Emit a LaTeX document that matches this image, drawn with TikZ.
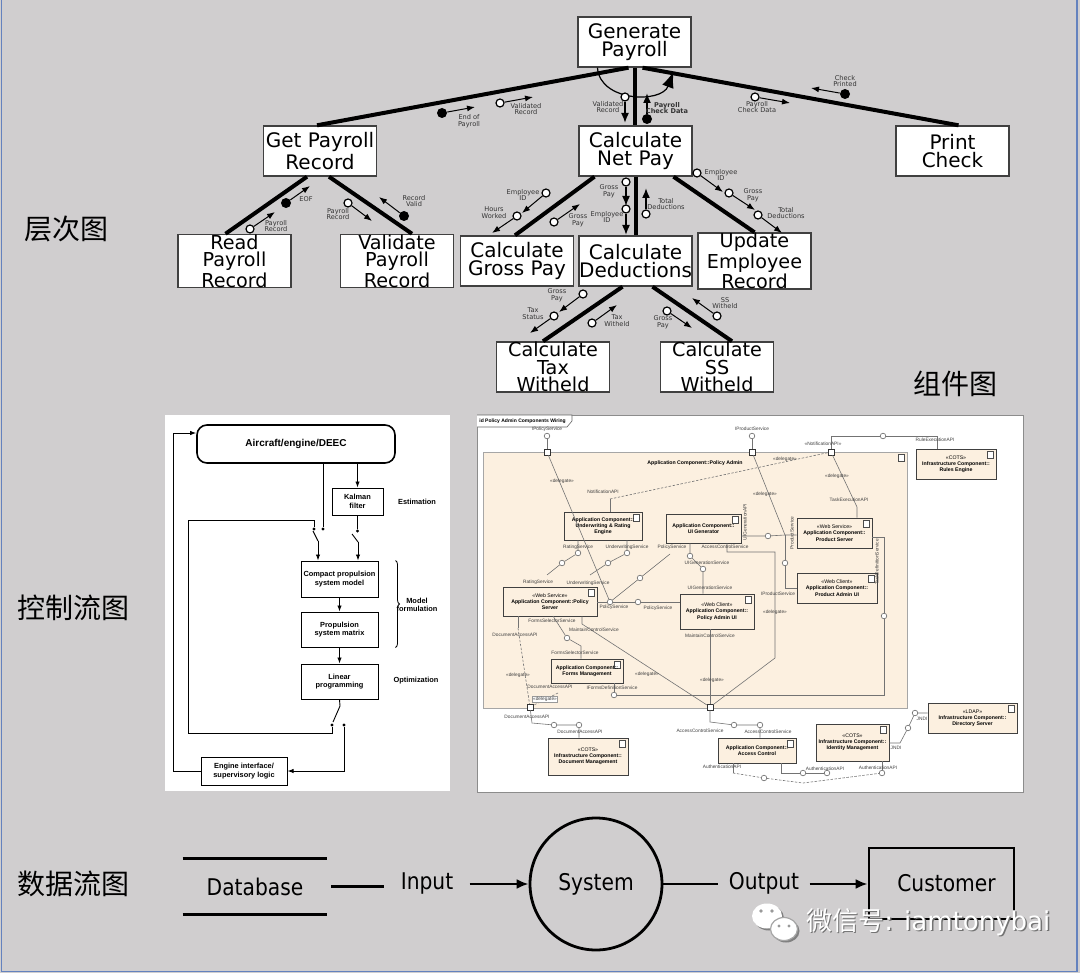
\documentclass[tikz,border=0pt]{standalone}
\usepackage{fontspec}
\setmainfont{DejaVu Sans}
\newfontfamily\cjkfont{Noto Sans CJK SC}
\newfontfamily\arialfont{Liberation Sans}
\newfontfamily\dfdfont[FakeStretch=0.88]{DejaVu Sans}
\usetikzlibrary{arrows.meta,calc,decorations.pathreplacing,shadows}

\definecolor{panelgray}{RGB}{208,206,207}
\definecolor{frameblue}{RGB}{100,130,190}
\definecolor{compbeige}{RGB}{252,240,224}

% data couple: circle, arrow and small label
\newcommand{\dcouple}[7][cplarrow]{%
  \node[#3] (#2) at (#4) {};
  \coordinate (#2-e) at (#5);
  \draw[#1] (#2) -- (#2-e);
  \node[cpllabel] (#2-l) at (#6) {#7};
}

\begin{document}
\begin{tikzpicture}[
    x=0.5pt, y=-0.5pt,
    module/.style={
        draw=black!75,
        fill=white,
        line width=0.7pt,
        minimum width=56.5pt,
        minimum height=25pt,
        inner sep=0pt,
        align=center,
        font=\fontsize{10}{9}\selectfont
    },
    module3/.style={module, font=\fontsize{9.6}{8.8}\selectfont},
    tree/.style={line width=2pt},
    opencpl/.style={circle, draw, fill=white, line width=0.6pt, minimum size=4pt, inner sep=0pt},
    fullcpl/.style={circle, fill=black, minimum size=5pt, inner sep=0pt},
    cplarrow/.style={-{Latex[length=4pt,width=3pt]}, line width=0.5pt},
    bigarrow/.style={-{Latex[length=5pt,width=4pt]}, line width=0.8pt},
    cpllabel/.style={font=\fontsize{3.3}{3.4}\selectfont, align=center, inner sep=0pt, text=black!80},
    sidelabel/.style={font=\cjkfont\fontsize{14}{14}\selectfont, inner sep=0pt},
    cfbox/.style={draw, line width=0.5pt, fill=white, align=center, inner sep=0pt,
        font=\arialfont\bfseries\fontsize{3.7}{4.3}\selectfont},
    cfnote/.style={font=\arialfont\bfseries\fontsize{3.7}{4.3}\selectfont, align=center, inner sep=0pt},
    cfline/.style={line width=0.45pt},
    cfarrow/.style={line width=0.45pt, -{Latex[length=3pt,width=2.2pt]}},
    swdot/.style={circle, fill=black, minimum size=1.6pt, inner sep=0pt},
    compicon/.style={path picture={
        \draw[black!70, line width=0.25pt, fill=white]
            ([shift={(-4.2pt,-1.2pt)}]path picture bounding box.north east) rectangle
            ([shift={(-1.6pt,-4.6pt)}]path picture bounding box.north east);}},
    comp/.style={draw=black!75, fill=compbeige, line width=0.4pt, align=center, inner sep=0.3pt,
        font=\arialfont\bfseries\fontsize{2.6}{3.1}\selectfont,
        drop shadow={shadow xshift=0.6pt, shadow yshift=-0.6pt, fill=black!40}, compicon},
    wire/.style={draw=black!55, line width=0.3pt},
    dwire/.style={wire, dash pattern=on 1.2pt off 0.8pt},
    lolli/.style={circle, draw=black!60, fill=white, line width=0.3pt, minimum size=2.8pt, inner sep=0pt},
    port/.style={rectangle, draw=black!80, fill=white, line width=0.3pt, minimum size=3pt, inner sep=0pt},
    wlabel/.style={font=\arialfont\fontsize{2.4}{2.8}\selectfont, text=black!75, inner sep=0.3pt},
    dfd/.style={font=\dfdfont\fontsize{11.5}{12}\selectfont},
    flow/.style={line width=1.4pt},
    flowarrow/.style={line width=1.4pt, -{Latex[length=6pt,width=5pt]}},
    wmtext/.style={font=\fontsize{13}{13}\selectfont, anchor=west, inner sep=0pt}
]
\useasboundingbox (0,0) rectangle (1080,973);
\fill[panelgray] (0,0) rectangle (1080,973);
\draw[frameblue, line width=0.8pt] (1.5,0) -- (1.5,971.5) -- (1077,971.5) -- (1077,0);

% section titles
\node[sidelabel] (tHier) at (67,229) {层次图};
\node[sidelabel] (tCtrl) at (74,608) {控制流图};
\node[sidelabel] (tComp) at (955,384) {组件图};
\node[sidelabel] (tData) at (74,884) {数据流图};

% ---------- structure chart ----------
\node[module] (gen) at (634.5,42) {Generate\\Payroll};
\node[module] (getrec) at (320,151) {Get Payroll\\Record};
\node[module] (netpay) at (635.5,151) {Calculate\\Net Pay};
\node[module] (print) at (952.5,151) {Print\\Check};
\node[module3] (read) at (234.5,261) {Read\\Payroll\\Record};
\node[module3] (validate) at (397,261) {Validate\\Payroll\\Record};
\node[module] (gross) at (517,261) {Calculate\\Gross Pay};
\node[module] (deduct) at (635.5,261) {Calculate\\Deductions};
\node[module3] (update) at (754.5,261) {Update\\Employee\\Record};
\node[module3] (tax) at (553,367) {Calculate\\Tax\\Witheld};
\node[module3] (ss) at (717,367) {Calculate\\SS\\Witheld};

\draw[tree] ($(gen.south)+(-6,0)$) -- ($(getrec.north)+(-3,0)$);
\draw[tree] (gen.south) -- (gen.south |- netpay.north);
\draw[tree] ($(gen.south)+(8,0)$) -- ($(print.north)+(6,0)$);
\draw[tree] ($(getrec.south)+(-13,0)$) -- ($(read.north)+(-9,0)$);
\draw[tree] ($(getrec.south)+(9,0)$) -- ($(validate.north)+(15,0)$);
\draw[tree] ($(netpay.south)+(-41,0)$) -- ($(gross.north)+(-2,0)$);
\draw[tree] (netpay.south) -- (netpay.south |- deduct.north);
\draw[tree] ($(netpay.south)+(38,0)$) -- (update.north);
\draw[tree] ($(deduct.south)+(-13,0)$) -- ($(tax.north)+(-10,0)$);
\draw[tree] ($(deduct.south)+(17,0)$) -- ($(ss.north)+(15,0)$);

% iteration loop under the top module
\coordinate (loopstart) at ($(gen.south)+(-37,0)$);
\coordinate (loopend) at ($(gen.south)+(39,4)$);
\draw[line width=0.6pt, -{Latex[length=8pt,width=6pt]}]
    (loopstart) .. controls ($(loopstart)+(2,34)$) and ($(loopend)+(-12,32)$) .. (loopend);

\dcouple{c1}{fullcpl}{442,113}{475,107}{469,121}{End of\\Payroll}
\dcouple{c2}{opencpl}{500,103}{533,97}{526,109}{Validated\\Record}
\dcouple[bigarrow]{c3}{opencpl}{625,97}{625,123}{608,107}{Validated\\Record}
\node[fullcpl] (c4) at (647,119) {};
\coordinate (c4-e) at (647,93);
\draw[bigarrow] (c4) -- (c4-e);
\node[cpllabel, font=\bfseries\fontsize{3.3}{3.4}\selectfont] (c4-l) at (667,108) {Payroll\\Check Data};
\dcouple{c5}{opencpl}{755,97}{790,103}{757,107}{Payroll\\Check Data}
\dcouple{c6}{fullcpl}{845,94}{811,88}{845,81}{Check\\Printed}
\dcouple{c7}{opencpl}{250,229}{275,212}{276,226}{Payroll\\Record}
\dcouple{c8}{fullcpl}{286,203}{310,186}{306,199}{EOF}
\dcouple{c9}{opencpl}{348,203}{372,221}{338,214}{Payroll\\Record}
\dcouple{c10}{fullcpl}{404,216}{379,197}{414,201}{Record\\Valid}
\dcouple{c11}{opencpl}{546,193}{522,213}{523,195}{Employee\\ID}
\dcouple{c12}{opencpl}{517,216}{492,233}{494,213}{Hours\\Worked}
\dcouple{c13}{opencpl}{554,222}{580,204}{578,220}{Gross\\Pay}
\dcouple[bigarrow]{c14}{opencpl}{626,182}{626,206}{609,191}{Gross\\Pay}
\dcouple[bigarrow]{c15}{opencpl}{626,209}{626,235}{607,217}{Employee\\ID}
\dcouple[bigarrow]{c16}{opencpl}{646,214}{646,188}{666,204}{Total\\Deductions}
\dcouple{c17}{opencpl}{697,173}{723,192}{721,175}{Employee\\ID}
\dcouple{c18}{opencpl}{729,193}{755,210}{753,195}{Gross\\Pay}
\dcouple{c19}{opencpl}{758,215}{782,233}{786,213}{Total\\Deductions}
\dcouple{c20}{opencpl}{583,294}{559,312}{557,295}{Gross\\Pay}
\dcouple{c21}{opencpl}{554,316}{530,333}{533,314}{Tax\\Status}
\dcouple{c22}{opencpl}{592,323}{617,305}{617,321}{Tax\\Witheld}
\dcouple{c23}{opencpl}{667,311}{692,328}{663,322}{Gross\\Pay}
\dcouple{c24}{opencpl}{717,316}{692,298}{725,303}{SS\\Witheld}

% ---------- control flow panel ----------
\fill[white] (165,415) rectangle (450,791);
\node[cfbox, rounded corners=5pt, line width=0.8pt, minimum width=99pt, minimum height=19pt,
    font=\arialfont\bfseries\fontsize{5}{6}\selectfont] (deec) at (296,444) {Aircraft/engine/DEEC};
\node[cfbox, minimum width=25.5pt, minimum height=13.5pt] (kalman) at (357.5,501.5) {Kalman\\filter};
\node[cfbox, minimum width=38.5pt, minimum height=18pt] (compact) at (339.5,579) {Compact propulsion\\system model};
\node[cfbox, minimum width=38.5pt, minimum height=17.5pt] (propmat) at (339.5,629.5) {Propulsion\\system matrix};
\node[cfbox, minimum width=38.5pt, minimum height=17.5pt] (linprog) at (339.5,681.5) {Linear\\programming};
\node[cfbox, minimum width=43pt, minimum height=14pt] (engine) at (244,771) {Engine interface/\\supervisory logic};
\node[cfnote] (estim) at (417,502) {Estimation};
\node[cfnote] (modelf) at (417,605) {Model\\formulation};
\node[cfnote] (optim) at (416,681) {Optimization};

\node[swdot] (sw1a) at (314,529) {};
\node[swdot] (sw1b) at (323,529) {};
\node[swdot] (sw2a) at (357.5,531) {};
\node[swdot] (sw3a) at (332,725) {};
\node[swdot] (sw3b) at (344,725) {};
\coordinate (sw1p) at (318,541);
\coordinate (sw2p) at (358,542);
\coordinate (sw3p) at (340,706);
\coordinate (loopin) at (173,433);

\draw[cfline] ($(deec.south)+(27,0)$) -- (sw1b);
\draw[cfarrow] (kalman.north |- deec.south) -- (kalman.north);
\draw[cfline] (kalman.south) -- (sw2a);
\draw[cfline] (313,531) -- (sw1p);
\draw[cfline] (352,534) -- (sw2p);
\draw[cfarrow] (sw1p) -- (sw1p |- compact.north);
\draw[cfarrow] (sw2p) -- (sw2p |- compact.north);
\draw[cfarrow] (compact.south) -- (propmat.north);
\draw[cfarrow] (propmat.south) -- (linprog.north);
\draw[cfline] (linprog.south) -- (sw3p) -- (333,722);
\draw[cfline] (sw3a) -- (332,733) -- (188,733) -- (188,520) -- (314,520) -- (sw1a);
\draw[cfarrow] (sw3b) -- (344,771) -- (engine.east);
\draw[cfarrow] (engine.west) -- (engine.west -| loopin) -- (loopin) -- (loopin -| deec.west);
\draw[decorate, decoration={brace, amplitude=2pt}, line width=0.4pt]
    ($(compact.north east)+(17,0)$) -- ($(propmat.south east)+(17,0)$);

% ---------- component diagram panel ----------
\fill[white] (477,415) rectangle (1023,792);
\draw[black!45, line width=0.4pt] (477,415) rectangle (1023,792);
\draw[black!60, line width=0.3pt, fill=white] (477,415) -- (572,415) -- (572,421) -- (567,427) -- (477,427);
\node[anchor=west, inner sep=0pt, font=\arialfont\bfseries\fontsize{2.5}{3}\selectfont] (frametitle) at (479,421) {id Policy Admin Components Wiring};

\node[draw=black!35, fill=compbeige, line width=0.3pt, minimum width=212pt, minimum height=128pt,
    inner sep=0pt, compicon] (padmin) at (695,580) {};
\node[inner sep=0pt, font=\arialfont\bfseries\fontsize{2.6}{3}\selectfont] (padminlbl) at (695,463) {Application Component::Policy Admin};

\node[comp, minimum width=39pt, minimum height=14pt] (uwEngine) at (603,526) {Application Component::\\Underwriting \& Rating\\Engine};
\node[comp, minimum width=37.5pt, minimum height=14.5pt] (uiGen) at (703.5,528.5) {Application Component::\\UI Generator};
\node[comp, minimum width=37.5pt, minimum height=15pt] (prodServer) at (834.5,533) {{\mdseries «Web Service»}\\Application Component::\\Product Server};
\node[comp, minimum width=40pt, minimum height=15pt] (prodAdmin) at (837,588) {{\mdseries «Web Client»}\\Application Component::\\Product Admin UI};
\node[comp, minimum width=47pt, minimum height=14.5pt] (polServer) at (550,601.5) {{\mdseries «Web Service»}\\Application Component::Policy\\Server};
\node[comp, minimum width=37pt, minimum height=17.5pt] (polAdmin) at (717,611.5) {{\mdseries «Web Client»}\\Application Component::\\Policy Admin UI};
\node[comp, minimum width=36pt, minimum height=12pt] (forms) at (587,671) {Application Component::\\Forms Management};
\node[comp, minimum width=40pt, minimum height=15pt] (rules) at (956,464) {{\mdseries «COTS»}\\Infrastructure Component::\\Rules Engine};
\node[comp, minimum width=40pt, minimum height=18.5pt] (docMgmt) at (588,756.5) {{\mdseries «COTS»}\\Infrastructure Component::\\Document Management};
\node[comp, minimum width=39pt, minimum height=12.5pt] (access) at (757,750.5) {Application Component::\\Access Control};
\node[comp, minimum width=36.5pt, minimum height=18.5pt] (identity) at (852.5,742.5) {{\mdseries «COTS»}\\Infrastructure Component::\\Identity Management};
\node[comp, minimum width=44.5pt, minimum height=15pt] (directory) at (972.5,718) {{\mdseries «LDAP»}\\Infrastructure Component::\\Directory Server};

\coordinate (ruleS) at (937,436);
\coordinate (prodS) at (785,535);
\coordinate (notifS) at (610,499);
\coordinate (taskS) at (857,507);
\coordinate (taskD) at (884,537);
\coordinate (taskB) at (884,695);
\coordinate (ratingS) at (547,575);
\coordinate (uwS) at (590,575);
\coordinate (polS) at (670,554);
\coordinate (acA) at (727,552);
\coordinate (acB) at (775,552);
\coordinate (acC) at (775,658);
\coordinate (docA) at (518,628);
\coordinate (docS) at (558,693);
\coordinate (fsA) at (553,616);
\coordinate (fsS) at (581,646);
\coordinate (mcA) at (582,624);
\coordinate (docB) at (532,723);
\coordinate (acD) at (710,722);
\coordinate (au1) at (733,773);
\coordinate (auM) at (803,783);
\coordinate (au2) at (781,773);
\coordinate (jn) at (900,743);

\node[port] (ipolP) at (547,452) {};
\node[port] (iprodP) at (752,452) {};
\node[port] (notifP) at (831,452) {};
\node[port] (mergeP) at (710,707) {};
\node[port] (docP) at (530,707) {};

\foreach \lname/\lpos in {ipolL/{547,436}, iprodL/{752,436}, ruleL/{883,436}, uiL/{768,536},
    prodL/{785,563}, taskL/{884,616}, ratingL/{578,553}, uwL/{627,553}, ratingL2/{562,563},
    uwL2/{608,563}, polL/{610,602}, polL2/{638,602}, polL3/{640,578}, uigL/{690,556},
    uigL2/{703,569}, fsL/{567,638}, formsL/{614,695}, docL1/{554,725}, docL2/{579,725},
    acL1/{734,725}, acL2/{760,725}, authL1/{764,778}, authL2/{803,773}, authL3/{827,773},
    idAuthL/{882,773}, jndiL1/{908,728}, jndiL2/{915,713}}
    \node[lolli] (\lname) at (\lpos) {};

\draw[wire] (ipolL) -- (ipolP);
\draw[wire] (iprodL) -- (iprodP);
\draw[wire] (notifP) |- (ruleL) -- (ruleS) -- (ruleS |- rules.north);
\draw[wire] (ipolP) -- (polL);
\draw[wire] (iprodP) -- (prodS) -- (prodS -| prodServer.west);
\draw[dwire] (notifS) -- (notifP);
\draw[wire] (notifS) -- (notifS |- uwEngine.north);
\draw[wire] (notifP) -- (taskS) -- (taskS |- prodServer.north);
\draw[wire] (uiL -| uiGen.east) -- (uiL) -- (prodS);
\draw[wire] (prodS) -- (prodL) |- (prodAdmin.west);
\draw[wire] (taskD -| prodServer.east) -- (taskD) -- (taskL) -- (taskB) -- (formsL);
\draw[wire] (formsL) -- (formsL |- forms.south);
\draw[wire] (ratingL |- uwEngine.south) -- (ratingL) -- (ratingL2) -- (ratingS);
\draw[wire] (uwL |- uwEngine.south) -- (uwL) -- (uwL2) -- (uwS);
\draw[wire] (polL -| polServer.east) -- (polL) -- (polL2) -- (polL2 -| polAdmin.west);
\draw[wire] (polS) -- (polL3) -- (polL);
\draw[wire] (uigL |- uiGen.south) -- (uigL) -- (uigL2) -- (uigL2 |- polAdmin.north);
\draw[wire] (acA |- uiGen.south) -- (acA) -- (acB) -- (acC) -- (mergeP);
\draw[wire] (docA |- polServer.south) -- (docA);
\draw[dwire] (docA) -- (docP);
\draw[dwire] (docS) -- (docP);
\draw[wire] (fsA) -- (fsL) -- (fsS) -- (fsS |- forms.north);
\draw[wire] (mcA |- polServer.south) -- (mcA) -- (mergeP);
\draw[wire] (mergeP |- polAdmin.south) -- (mergeP);
\draw[wire] (docP) -- (docB) -- (docL1) -- (docL2) -- (docL2 |- docMgmt.north);
\draw[wire] (mergeP) -- (acD) -- (acL1) -- (acL2) -- (acL2 |- access.north);
\draw[wire] (au1 |- access.south) -- (au1);
\draw[dwire] (au1) -- (authL1) -- (auM) -- (idAuthL);
\draw[wire] (au2 |- access.south) -- (au2) -- (authL2) -- (authL3);
\draw[wire] (idAuthL |- identity.south) -- (idAuthL);
\draw[wire] (jn -| identity.east) -- (jn) -- (jndiL1) -- (jndiL2) -- (jndiL2 -| directory.west);

\node[wlabel] (w1) at (547,429) {IPolicyService};
\node[wlabel] (w2) at (752,429) {IProductService};
\node[wlabel] (w3) at (823,444) {«NotificationAPI»};
\node[wlabel] (w4) at (935,440) {RuleExecutionAPI};
\node[wlabel] (w5) at (562,481) {«delegate»};
\node[wlabel] (w6) at (603,492) {NotificationAPI};
\node[wlabel] (w7) at (785,459) {«delegate»};
\node[wlabel] (w8) at (765,494) {«delegate»};
\node[wlabel] (w9) at (837,476) {«delegate»};
\node[wlabel] (w10) at (849,500) {TaskExecutionAPI};
\node[wlabel, rotate=90] (w11) at (745,522) {UIGenerationAPI};
\node[wlabel, rotate=90] (w12) at (792,533) {ProductService};
\node[wlabel, rotate=90] (w13) at (877,562) {TaskDefinitionService};
\node[wlabel] (w14) at (778,594) {IProductService};
\node[wlabel] (w15) at (578,547) {RatingService};
\node[wlabel] (w16) at (627,547) {UnderwritingService};
\node[wlabel] (w17) at (538,582) {RatingService};
\node[wlabel] (w18) at (588,583) {UnderwritingService};
\node[wlabel] (w19) at (672,547) {PolicyService};
\node[wlabel] (w20) at (707,563) {UIGenerationService};
\node[wlabel] (w21) at (710,588) {UIGenerationService};
\node[wlabel] (w22) at (725,547) {AccessControlService};
\node[wlabel] (w23) at (614,607) {PolicyService};
\node[wlabel] (w24) at (658,608) {PolicyService};
\node[wlabel] (w25) at (552,621) {FormsSelectorService};
\node[wlabel] (w26) at (575,653) {FormsSelectorService};
\node[wlabel] (w27) at (515,635) {DocumentAccessAPI};
\node[wlabel] (w28) at (594,630) {MaintainControlService};
\node[wlabel] (w29) at (710,636) {MaintainControlService};
\node[wlabel] (w30) at (518,675) {«delegate»};
\node[wlabel] (w31) at (647,674) {«delegate»};
\node[wlabel] (w32) at (712,680) {«delegate»};
\node[wlabel] (w33) at (775,612) {«delegate»};
\node[wlabel] (w34) at (612,688) {IFormsDefinitionService};
\node[wlabel] (w35) at (550,687) {DocumentAccessAPI};
\node[wlabel, fill=white, draw=black!40, line width=0.2pt] (w36) at (545,699) {«delegate»};
\node[wlabel] (w37) at (527,717) {DocumentAccessAPI};
\node[wlabel] (w38) at (580,732) {DocumentAccessAPI};
\node[wlabel] (w39) at (700,731) {AccessControlService};
\node[wlabel] (w40) at (768,732) {AccessControlService};
\node[wlabel] (w41) at (722,767) {AuthenticationAPI};
\node[wlabel] (w42) at (825,769) {AuthenticationAPI};
\node[wlabel] (w43) at (878,768) {AuthenticationAPI};
\node[wlabel] (w44) at (896,748) {JNDI};
\node[wlabel] (w45) at (922,719) {JNDI};

% ---------- data flow ----------
\node[dfd, minimum width=72pt, minimum height=27.5pt, inner sep=0pt] (db) at (255,886.5) {Database};
\draw[flow] (db.north west) -- (db.north east);
\draw[flow] (db.south west) -- (db.south east);
\node[dfd, inner xsep=8pt, inner ysep=0pt] (input) at (427,883) {Input};
\node[dfd, circle, draw, line width=1.4pt, minimum size=66pt, inner sep=0pt] (sys) at (596,884) {System};
\node[dfd, inner xsep=5pt, inner ysep=0pt] (output) at (764,883) {Output};
\node[dfd, draw, line width=1.4pt, minimum width=72.5pt, minimum height=35.5pt, inner sep=0pt] (customer) at (941.5,883.5) {\hspace*{5pt}Customer};
\draw[flow] ([xshift=2pt]db.east) -- (input.west |- db.east);
\draw[flowarrow] (input.east |- sys.west) -- (sys.west);
\draw[flow] (sys.east) -- (output.west |- sys.east);
\draw[flowarrow] (output.east |- sys.east) -- (customer.west |- sys.east);

% watermark
\fill[black!50] (769,918) ellipse (15 and 12.5) (786,931) ellipse (13.5 and 11.5);
\fill[white] (767,916) ellipse (15 and 12.5);
\draw[black!35, fill=white, line width=0.6pt] (784,929) ellipse (13.5 and 11.5);
\fill[black!40] (761,911) circle (1.8) (772,911) circle (1.8) (779,926) circle (1.6) (789,926) circle (1.6);
\node[wmtext, text=black!55] (wmshadow) at (807.5,923.5) {{\cjkfont 微信号}: iamtonybai};
\node[wmtext, text=white] (wmark) at (806,922) {{\cjkfont 微信号}: iamtonybai};
\end{tikzpicture}
\end{document}
